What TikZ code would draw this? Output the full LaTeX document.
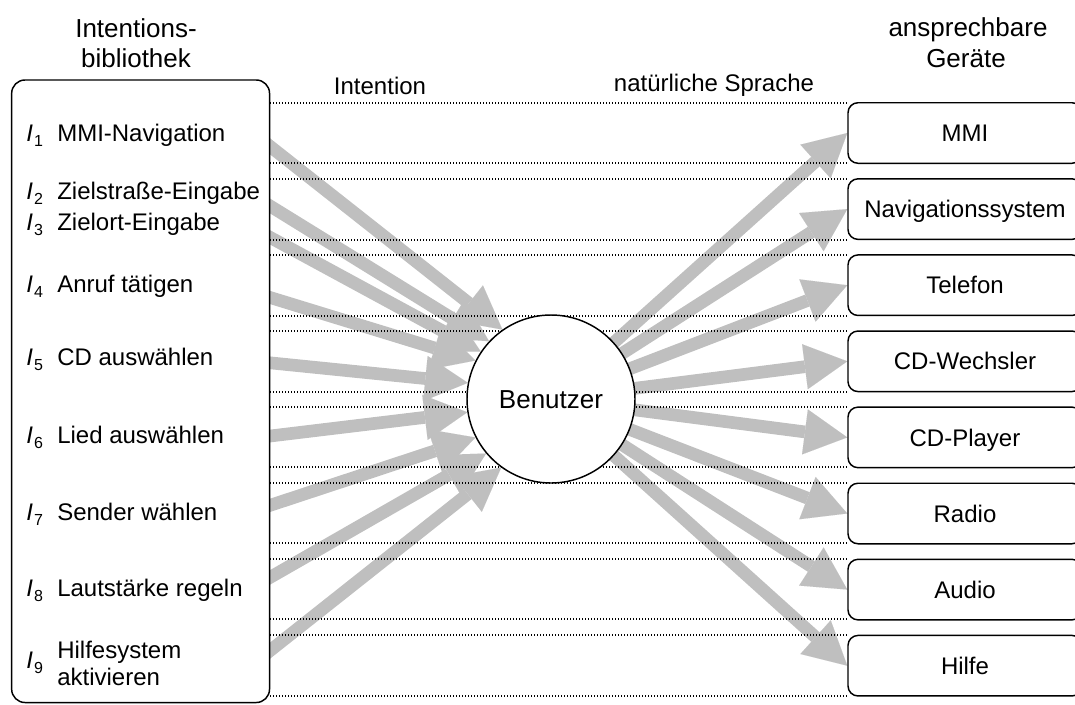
\documentclass[tikz,border=0pt]{standalone}
\usepackage{fontspec}
\setmainfont{Liberation Sans}
\usetikzlibrary{arrows.meta}
\pgfdeclarelayer{arrowlayer}
\pgfdeclarelayer{guidelayer}
\pgfsetlayers{arrowlayer,guidelayer,main}
% italic intention symbol with lowered index
\newcommand{\intsym}[1]{\textit{I}\kern0.8pt\raisebox{-4.3pt}{\fontsize{12}{12}\selectfont #1}}

\begin{document}
\begin{tikzpicture}[x=0.75pt,y=-0.75pt,
  every node/.style={inner sep=0pt},
  body/.style={font=\fontsize{18}{21.6}\selectfont},
  head/.style={font=\fontsize{19.5}{22}\selectfont},
  panel/.style={draw, line width=1.1pt, fill=white},
  devbox/.style={panel, rounded corners=7.5pt, minimum width=175.5pt, minimum height=45.4pt,
                 font=\fontsize{18}{21.6}\selectfont, text height=12.9pt, text depth=0pt},
  flow/.style={draw=black!25, line width=9.5pt,
               -{Triangle[length=32pt,width=34pt,line width=0.01pt]}},
  guide/.style={line width=0.9pt, dash pattern=on 0.9pt off 1.35pt},
]
\useasboundingbox (0,0) rectangle (1075,704);

% headings
\node[head, anchor=base] (h1a) at (136,37.5) {Intentions-};
\node[head, anchor=base] (h1b) at (136,67) {bibliothek};
\node[head, anchor=base] (h2a) at (968,36) {ansprechbare};
\node[head, anchor=base] (h2b) at (966,67) {Geräte};
\node[body, anchor=base] (lblint) at (380,94) {Intention};
\node[body, anchor=base] (lblsp) at (714,91) {natürliche Sprache};

% intention library
\node[panel, rounded corners=10pt, minimum width=193.4pt, minimum height=466.9pt] (lib) at (140.6,391.25) {};

% user
\node[panel, circle, minimum size=126pt, font=\fontsize{19.5}{22}\selectfont,
      text height=14pt, text depth=0pt] (B) at (551,399) {Benutzer};

% addressable devices
\node[devbox] (d1) at (965,133.0) {MMI};
\node[devbox] (d2) at (965,209.1) {Navigationssystem};
\node[devbox] (d3) at (965,285.2) {Telefon};
\node[devbox] (d4) at (965,361.3) {CD-Wechsler};
\node[devbox] (d5) at (965,437.4) {CD-Player};
\node[devbox] (d6) at (965,513.5) {Radio};
\node[devbox] (d7) at (965,589.6) {Audio};
\node[devbox] (d8) at (965,665.7) {Hilfe};

% intention entries
\foreach \n/\y/\t in {1/141/MMI-Navigation, 2/199/Zielstraße-Eingabe, 3/230/Zielort-Eingabe,
                      4/292/Anruf tätigen, 5/365/CD auswählen, 6/443/Lied auswählen,
                      7/520/Sender wählen, 8/596/Lautstärke regeln}{
  \node[body, anchor=base west] (i\n) at (26,\y) {\intsym{\n}};
  \node[body, anchor=base west] (t\n) at (57,\y) {\t};
}
\node[body, anchor=base west] (i9) at (26,668) {\intsym{9}};
\node[body, anchor=base west] (t9a) at (57,658) {Hilfesystem};
\node[body, anchor=base west] (t9b) at (57,685) {aktivieren};

% arrow start points (under the library box)
\foreach \n/\y in {1/140, 2/201, 3/233, 4/295, 5/362, 6/437, 7/508, 8/582, 9/657}
  \coordinate (s\n) at (262,\y);

\begin{pgfonlayer}{arrowlayer}
  % intentions into the user
  \foreach \n/\a in {1/125, 2/137, 3/146, 4/153, 5/169, 6/189, 7/207, 8/220, 9/234}
    \draw[flow] (s\n) -- (B.\a);
  % spoken language out to the devices
  \foreach \n in {1,...,8}
    \draw[flow] (B.center) -- (d\n.west);
\end{pgfonlayer}

\begin{pgfonlayer}{guidelayer}
  \foreach \y in {103,163,179,240,255,316,331,392,407,467,483,543,559,619,635,696}
    \draw[guide] (270,\y) -- (848,\y);
\end{pgfonlayer}

\end{tikzpicture}
\end{document}
